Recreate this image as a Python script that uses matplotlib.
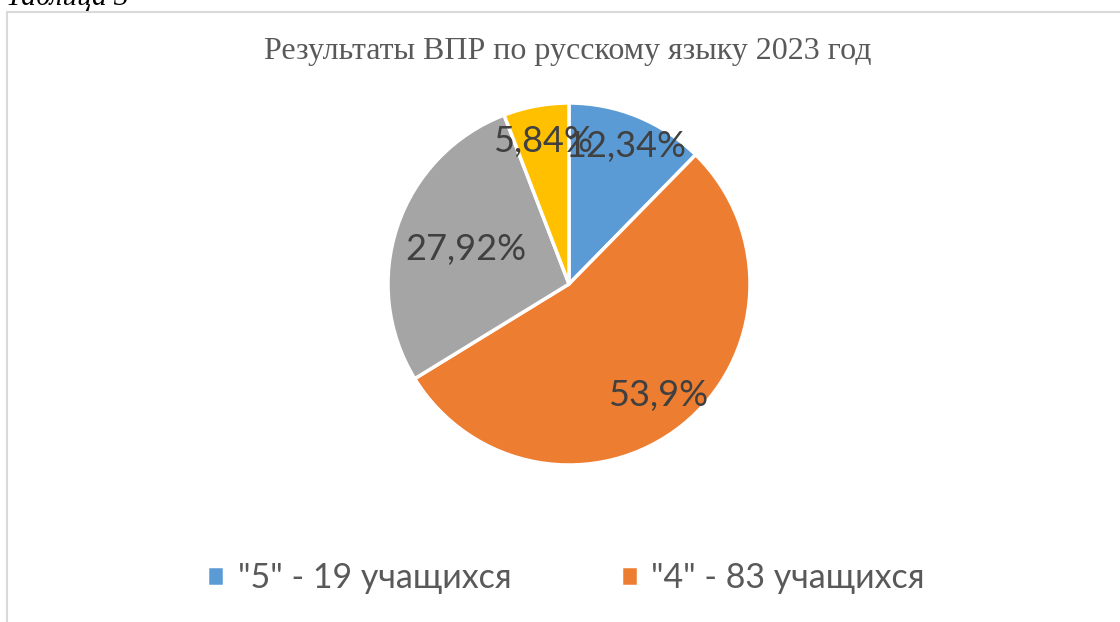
import matplotlib
matplotlib.use('Agg')
import matplotlib.pyplot as plt
import numpy as np
from matplotlib.patches import Rectangle

# data
grades = ['"5"', '"4"', '"3"', '"2"']
students = [19, 83, 43, 9]
shares = [12.34, 53.9, 27.92, 5.84]
pct_labels = ['12,34%', '53,9%', '27,92%', '5,84%']
legend_labels = [g + ' - ' + str(n) + ' учащихся' for g, n in zip(grades, students)]
colors = ['#5B9BD5', '#ED7D31', '#A5A5A5', '#FFC000']
label_dist = [0.82, 0.79, 0.60, 0.80]

fig = plt.figure(figsize=(11.2, 6.22), dpi=100)
W, H = 1120, 622

# chart frame (extends past the right/bottom edge like in the document)
fig.patches.append(Rectangle((6.5 / W, -0.1), 1.2, 1 - 11.5 / H + 0.1,
                             transform=fig.transFigure, fill=False,
                             edgecolor='#D9D9D9', linewidth=1.5))

# caption above the chart, mostly cut off
fig.text(6 / W, 1 - 5 / H, 'Таблица 3', fontsize=21, style='italic',
         family='Liberation Serif', color='black', va='baseline', ha='left')

fig.text(568 / W, 1 - 51 / H, 'Результаты ВПР по русскому языку 2023 год',
         fontsize=23, family='Liberation Serif', color='#595959',
         ha='center', va='center')

cx, cy, r = 569, 284, 181
ax = fig.add_axes([(cx - r) / W, 1 - (cy + r) / H, 2 * r / W, 2 * r / H])
wedges, _ = ax.pie(shares, colors=colors, startangle=90, counterclock=False,
                   wedgeprops=dict(edgecolor='white', linewidth=2.5))
ax.set_xlim(-1, 1)
ax.set_ylim(-1, 1)
ax.set_aspect('equal')

for w, lab, d in zip(wedges, pct_labels, label_dist):
    th = np.deg2rad((w.theta1 + w.theta2) / 2)
    ax.text(d * np.cos(th), d * np.sin(th), lab, ha='center', va='center',
            fontsize=26, family='Lato', color='#404040')

fig.legend(wedges[:2], legend_labels[:2], loc='center', ncol=2,
           bbox_to_anchor=(566 / W, 1 - 578 / H), frameon=False,
           prop={'family': 'Lato', 'size': 24.5}, labelcolor='#595959',
           handlelength=0.5, handleheight=0.5, columnspacing=3.2,
           handletextpad=0.4)

fig.savefig('out.png', dpi=100)
